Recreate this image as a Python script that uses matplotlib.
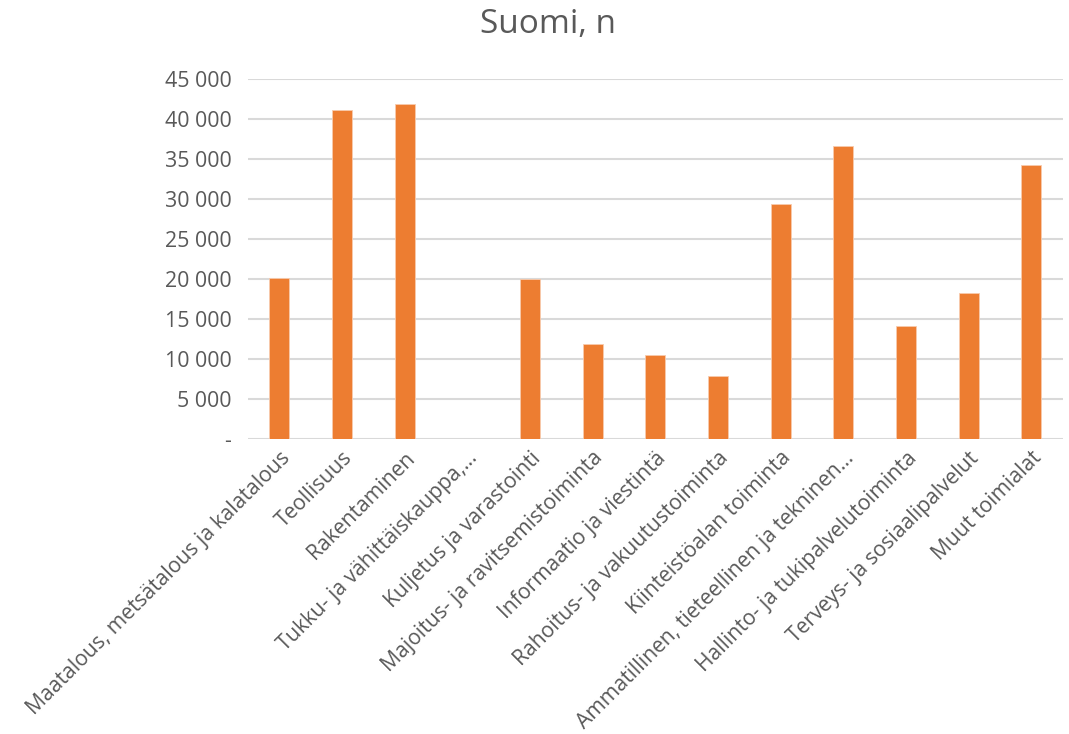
# -*- coding: utf-8 -*-
import matplotlib
matplotlib.use("Agg")
import matplotlib.pyplot as plt
import matplotlib.ticker as mticker
import numpy as np

toimialat = [
    "Maatalous, metsätalous ja kalatalous",
    "Teollisuus",
    "Rakentaminen",
    "Tukku- ja vähittäiskauppa,…",
    "Kuljetus ja varastointi",
    "Majoitus- ja ravitsemistoiminta",
    "Informaatio ja viestintä",
    "Rahoitus- ja vakuutustoiminta",
    "Kiinteistöalan toiminta",
    "Ammatillinen, tieteellinen ja tekninen…",
    "Hallinto- ja tukipalvelutoiminta",
    "Terveys- ja sosiaalipalvelut",
    "Muut toimialat",
]
# kaupan arvo puuttuu, joten pylväs jää tyhjäksi
lkm = [20200, 41100, 41900, np.nan, 20000, 11900, 10500, 7900,
       29350, 36600, 14150, 18300, 34300]
y_ticks = list(range(0, 45001, 5000))

plt.rcParams['font.family'] = ['Open Sans', 'DejaVu Sans']
harmaa = '#595959'

fig = plt.figure(figsize=(10.69, 7.34), dpi=100)
ax = fig.add_axes([0.232, 0.4015, 0.762, 0.4905])

x = np.arange(len(toimialat))
ax.bar(x, lkm, width=0.32, color='#ED7D31', edgecolor='#F8CBAD', linewidth=0.6, zorder=3)

ax.set_xlim(-0.5, len(toimialat) - 0.5)
ax.set_ylim(0, 45000)
ax.set_yticks(y_ticks)

def muotoile(v, pos):
    if v == 0:
        return '-'
    return f"{int(v):,}".replace(',', ' ')

ax.yaxis.set_major_formatter(mticker.FuncFormatter(muotoile))
ax.grid(axis='y', color='#D9D9D9', linewidth=1.5, zorder=0)
for s in ax.spines.values():
    s.set_visible(False)
ax.tick_params(axis='y', length=0, colors=harmaa, labelsize=15.4, pad=12)

ax.set_xticks(x)
ax.set_xticklabels(toimialat, rotation=45, ha='right', rotation_mode='anchor')
ax.tick_params(axis='x', length=0, colors=harmaa, labelsize=15.2, pad=6)

fig.text(0.513, 0.966, "Suomi, n", ha='center', va='center', fontsize=24, color=harmaa)

fig.savefig("out.png", dpi=100)
